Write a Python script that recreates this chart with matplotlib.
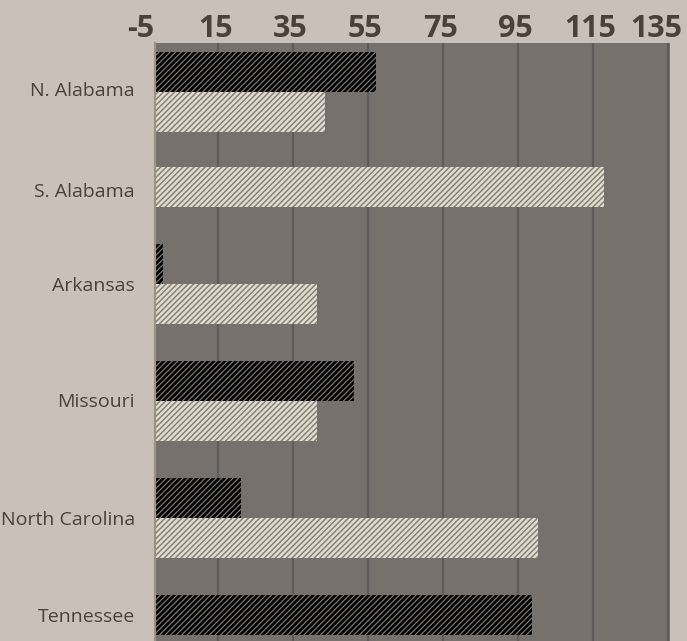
import numpy as np
import matplotlib
matplotlib.use("Agg")
import matplotlib.pyplot as plt
import matplotlib.transforms as mtransforms

# ---- Data ----
categories = ["N. Alabama", "S. Alabama", "Arkansas", "Missouri", "North Carolina", "Tennessee"]
dark_values = [57, np.nan, 0.2, 51.1, 21, 98.6]
light_values = [43.4, 117.8, 41.2, 41.2, 100.2, np.nan]
tick_values = [-5, 15, 35, 55, 75, 95, 115, 135]

# ---- Layout (row positions in category units, as drawn in the reference) ----
bar_rows = [0.36, 1.0, 2.0, 3.0, 4.0, 5.0]
label_rows = [0.393, 1.254, 2.06, 3.054, 4.06, 4.886]
bar_h = 0.345
x_lo, x_hi = -1.9, 135.3

fig_bg = "#c9c1b9"
plot_bg = "#76716c"
text_col = "#4a4139"
grid_col = "#5d5b5c"

plt.rcParams["font.family"] = ["Open Sans", "DejaVu Sans"]

W, H = 687, 641
fig = plt.figure(figsize=(W / 100, H / 100), dpi=100)
fig.patch.set_facecolor(fig_bg)
ax = fig.add_axes([155 / W, 0, (669.5 - 155) / W, (H - 43.3) / H])
ax.set_facecolor(plot_bg)

ax.set_xlim(x_lo, x_hi)
ax.set_ylim(5.051, -0.057)

# grid lines
for v in tick_values:
    if x_lo < v <= x_hi:
        ax.axvline(v, color=grid_col, lw=1.6, zorder=1)

rows = np.array(bar_rows)
dark = np.array(dark_values, dtype=float)
light = np.array(light_values, dtype=float)

with plt.rc_context({"hatch.linewidth": 0.9}):
    ax.barh(rows - bar_h / 2, dark - x_lo, left=x_lo, height=bar_h,
            color="#000000", edgecolor="#7a7570", linewidth=0, hatch="//////", zorder=2)
with plt.rc_context({"hatch.linewidth": 1.1}):
    ax.barh(rows + bar_h / 2, light - x_lo, left=x_lo, height=bar_h,
            color="#e2ddce", edgecolor="#858079", linewidth=0, hatch="//////", zorder=2)

# axis decoration
ax.set_xticks([])
ax.set_yticks([])
for side in ["top", "right", "bottom"]:
    ax.spines[side].set_visible(False)
ax.spines["left"].set_color("#9d947f")
ax.spines["left"].set_linewidth(1.6)

# top value labels
xt = ax.get_xaxis_transform()
for v in tick_values:
    if v == tick_values[-1]:
        ax.text(1.0, 1.0, str(v), transform=mtransforms.offset_copy(ax.transAxes, fig=fig, x=13, y=6, units="dots"),
                ha="right", va="baseline", fontsize=22, fontweight="bold", color=text_col, clip_on=False)
    else:
        ax.text(v, 1.0, str(v), transform=mtransforms.offset_copy(xt, fig=fig, x=-3, y=6, units="dots"),
                ha="center", va="baseline", fontsize=22, fontweight="bold", color=text_col, clip_on=False)

# category labels
yt = ax.get_yaxis_transform()
for name, r in zip(categories, label_rows):
    ax.text(0, r, name, transform=mtransforms.offset_copy(yt, fig=fig, x=-20, y=0, units="dots"),
            ha="right", va="baseline", fontsize=14, color=text_col, clip_on=False)

fig.savefig("out.png", dpi=100, facecolor=fig_bg)
